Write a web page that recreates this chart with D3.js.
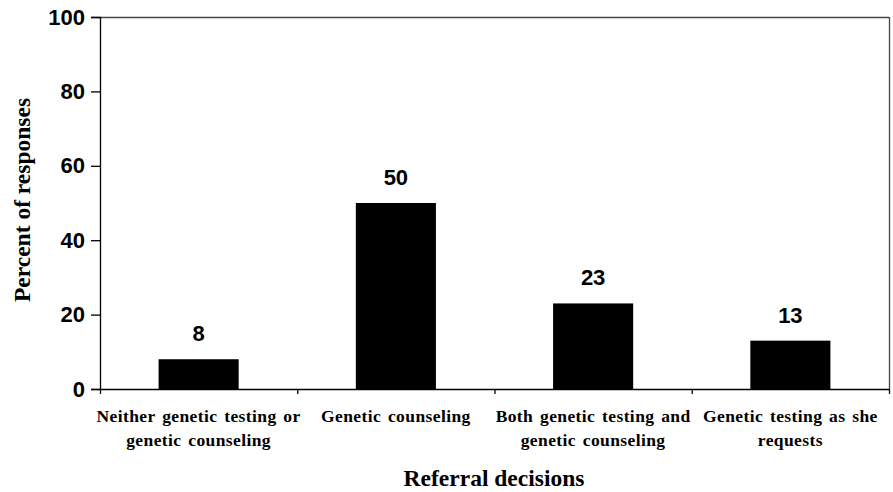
<!DOCTYPE html>
<html><head><meta charset="utf-8">
<script src="https://cdn.jsdelivr.net/npm/d3@7"></script>
<style>body{margin:0;background:#fff;} svg{display:block;}</style>
</head><body>
<svg id="c" width="893" height="492"></svg>
<script>
const categories = [
  ["Neither genetic testing or", "genetic counseling"],
  ["Genetic counseling"],
  ["Both genetic testing and", "genetic counseling"],
  ["Genetic testing as she", "requests"]
];
const values = [8, 50, 23, 13];
const yTicks = [0, 20, 40, 60, 80, 100];

const svg = d3.select("#c");
const m = {l:100, t:17, r:889, b:389};
const keys = categories.map((c,i)=>i);
const x = d3.scaleBand().domain(keys).range([m.l, m.r]).paddingInner(0.594).paddingOuter(0.297);
const xb = d3.scaleBand().domain(keys).range([m.l, m.r]);
const y = d3.scaleLinear().domain([0,100]).range([m.b, m.t]);

// frame top/right
svg.append("line").attr("x1",m.l).attr("x2",m.r).attr("y1",m.t+0.5).attr("y2",m.t+0.5).attr("stroke","#444").attr("stroke-width",1.3);
svg.append("line").attr("x1",m.r+0.5).attr("x2",m.r+0.5).attr("y1",m.t).attr("y2",m.b).attr("stroke","#444").attr("stroke-width",1.3);

// bars
svg.append("g").selectAll("rect").data(values).join("rect")
  .attr("x",(d,i)=>x(i)).attr("width",x.bandwidth())
  .attr("y",d=>y(d)).attr("height",d=>y(0)-y(d)).attr("fill","#000");

// value labels
svg.append("g").selectAll("text").data(values).join("text")
  .attr("x",(d,i)=>x(i)+x.bandwidth()/2).attr("y",d=>y(d)-18)
  .attr("text-anchor","middle").attr("font-family","Liberation Sans, Arial, sans-serif")
  .attr("font-weight","bold").attr("font-size",22).text(d=>d);

// y axis
const ya = svg.append("g").attr("transform",`translate(${m.l},0)`)
  .call(d3.axisLeft(y).tickValues(yTicks).tickSize(9).tickPadding(6));
ya.select(".domain").attr("stroke","#000").attr("stroke-width",1.3);
ya.selectAll(".tick line").attr("stroke","#000").attr("stroke-width",1.3);
ya.selectAll("text").attr("font-family","Liberation Sans, Arial, sans-serif")
  .attr("font-weight","bold").attr("font-size",22).attr("fill","#000");

// x axis: ticks at band boundaries
svg.append("line").attr("x1",m.l).attr("x2",m.r).attr("y1",m.b+0.5).attr("y2",m.b+0.5).attr("stroke","#000").attr("stroke-width",1.3);
const bounds = keys.map(k=>xb(k)).concat([m.r]);
svg.append("g").selectAll("line").data(bounds).join("line")
  .attr("x1",d=>d+0.5).attr("x2",d=>d+0.5).attr("y1",m.b).attr("y2",m.b+5)
  .attr("stroke","#000").attr("stroke-width",1.3);

// category labels
const cl = svg.append("g").selectAll("text").data(categories).join("text")
  .attr("text-anchor","middle").attr("font-family","Liberation Serif, 'Times New Roman', serif")
  .attr("font-weight","bold").attr("font-size",17.5).attr("letter-spacing",0.4).attr("word-spacing",2).attr("fill","#000");
cl.each(function(c,i){
  const t = d3.select(this);
  c.forEach((line,j)=>{
    t.append("tspan").attr("x",xb(i)+xb.bandwidth()/2).attr("y",422+j*24).text(line);
  });
});

// axis titles
svg.append("text").attr("x",494).attr("y",486).attr("text-anchor","middle")
  .attr("font-family","Liberation Serif, 'Times New Roman', serif").attr("font-weight","bold")
  .attr("font-size",23.5).text("Referral decisions");
svg.append("text").attr("transform","translate(30,200) rotate(-90)").attr("text-anchor","middle")
  .attr("font-family","Liberation Serif, 'Times New Roman', serif").attr("font-weight","bold")
  .attr("font-size",23.5).text("Percent of responses");
</script>
</body></html>
